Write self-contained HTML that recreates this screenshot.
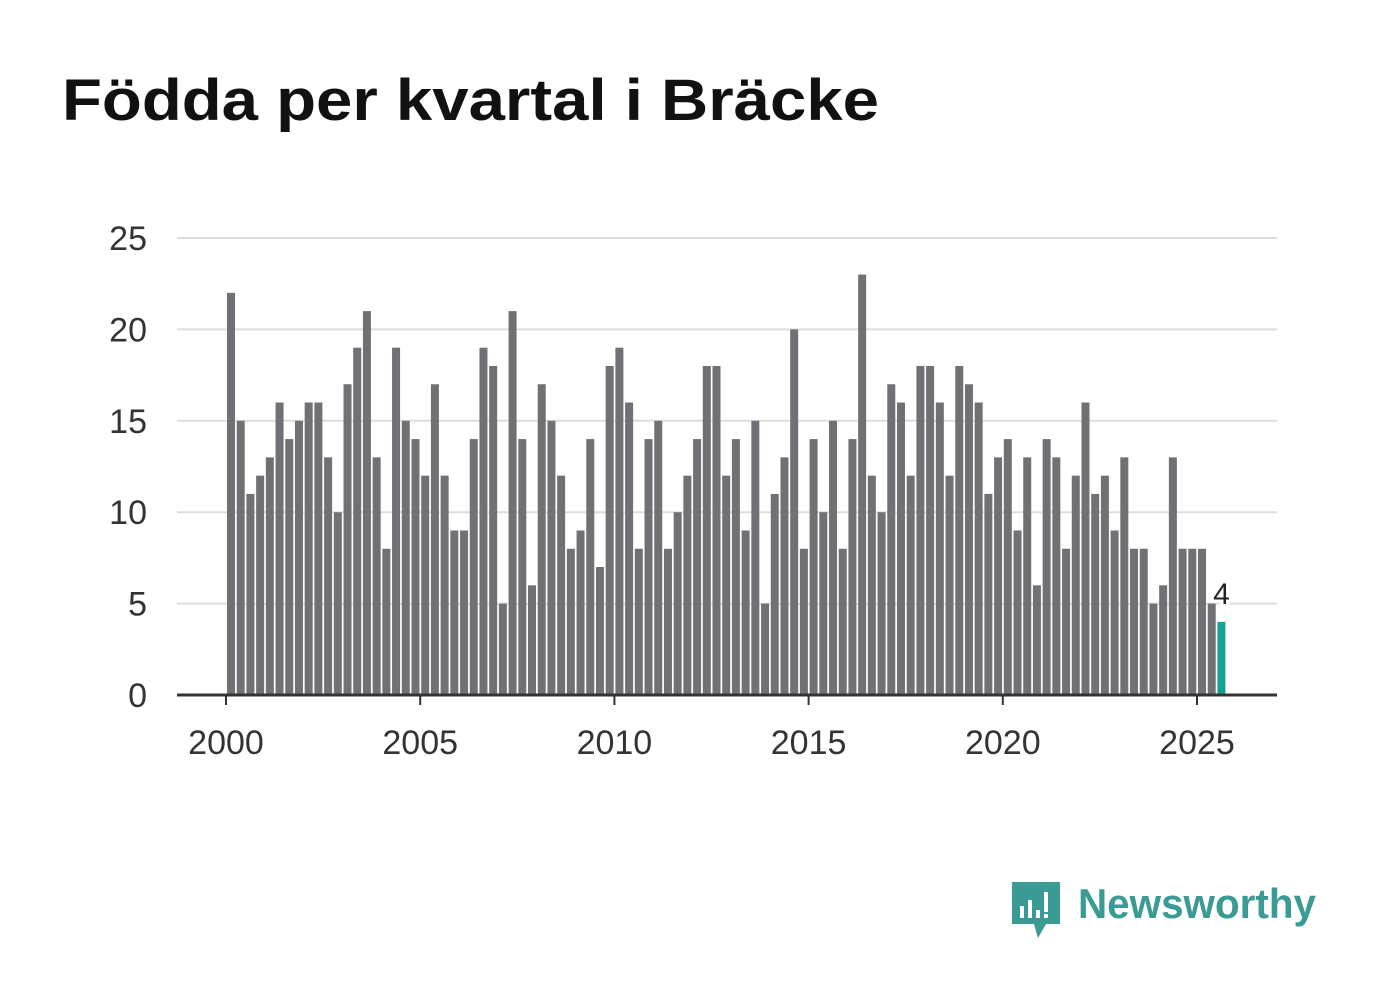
<!DOCTYPE html>
<html><head><meta charset="utf-8"><style>
body{margin:0;background:#fff;width:1382px;height:999px;overflow:hidden;font-family:"Liberation Sans",sans-serif}
</style></head><body>
<svg width="1382" height="999">
<text x="62" y="120" font-size="58" font-weight="bold" fill="#111" textLength="817" lengthAdjust="spacingAndGlyphs">Födda per kvartal i Bräcke</text>
<g id="grid"></g><g id="bars"></g><g id="axis"></g>
<g>
<path d="M1012 882 h48 v42 h-14 l-8 14 l-4 -14 h-22 z" fill="#3a9a94"/>
<rect x="1020" y="906" width="4" height="12" fill="#fff"/><rect x="1028" y="900" width="4" height="18" fill="#fff"/><rect x="1036" y="910" width="4" height="8" fill="#fff"/><rect x="1044" y="892" width="4" height="20" fill="#fff"/><rect x="1044" y="914" width="4" height="4" fill="#fff"/>
<text x="1078" y="918" font-size="42" font-weight="bold" fill="#3a9a94" textLength="238" lengthAdjust="spacingAndGlyphs">Newsworthy</text>
</g>
</svg>
<script>
const years=[2000,2005,2010,2015,2020,2025];
const yTicks=[0,5,10,15,20,25];
const values=[22,15,11,12,13,16,14,15,16,16,13,10,17,19,21,13,8,19,15,14,12,17,12,9,9,14,19,18,5,21,14,6,17,15,12,8,9,14,7,18,19,16,8,14,15,8,10,12,14,18,18,12,14,9,15,5,11,13,20,8,14,10,15,8,14,23,12,10,17,16,12,18,18,16,12,18,17,16,11,13,14,9,13,6,14,13,8,12,16,11,12,9,13,8,8,5,6,13,8,8,8,5,4];
const NS='http://www.w3.org/2000/svg';
const x=t=>226+(t-2000)*38.84;
const y=v=>695-v*18.28;
function mk(tag,attrs,parent){const e=document.createElementNS(NS,tag);for(const k in attrs)e.setAttribute(k,attrs[k]);document.getElementById(parent).appendChild(e);return e;}
yTicks.forEach(v=>{
 if(v>0){const l=mk('line',{x1:177,x2:1277,y1:y(v),y2:y(v),stroke:'#ddd','stroke-width':2},'grid');
 
 }
 const t=mk('text',{x:147,y:y(v)+12,'font-size':34,fill:'#333','text-anchor':'end'},'axis');t.textContent=v;
 
 
});
values.forEach((v,i)=>{
 const cx=x(2000+i/4)+5;
 const last=i===values.length-1;
 const r=mk('rect',{x:cx-4,y:y(v),width:8,height:y(0)-y(v),fill:last?'#17a096':'#717075'},'bars');
 
 
 if(last){const t=mk('text',{x:cx,y:y(v)-18,'font-size':30,fill:'#222','text-anchor':'middle',stroke:'#fff','stroke-width':6,'paint-order':'stroke'},'bars');t.textContent=v;
 
 }
});
const base=mk('line',{x1:177,x2:1277,y1:695,y2:695,stroke:'#333','stroke-width':3},'axis');


years.forEach(yr=>{
 const tk=mk('line',{x1:x(yr),x2:x(yr),y1:695,y2:705,stroke:'#333','stroke-width':2},'axis');
 
 
 const t=mk('text',{x:x(yr),y:754,'font-size':34,fill:'#333','text-anchor':'middle'},'axis');t.textContent=yr;
 
 
});
</script>
</body></html>
